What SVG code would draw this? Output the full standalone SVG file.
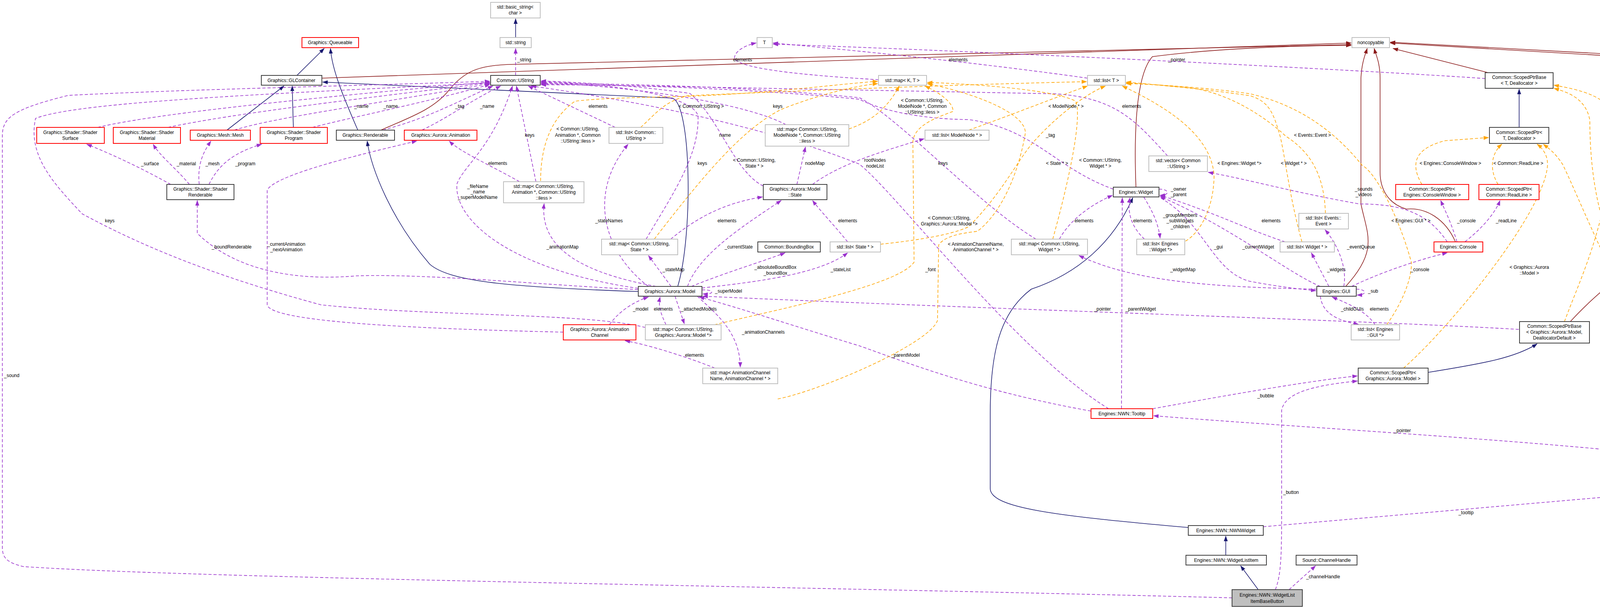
<svg xmlns="http://www.w3.org/2000/svg" width="4377" height="1556" viewBox="0 0 4377 1556">
<style>
text{font-family:"Liberation Sans",Arial,sans-serif;font-size:12px;fill:#000;text-anchor:middle}
.n rect{fill:#fff;stroke-width:2}
.g rect{stroke:#bfbfbf}.r rect{stroke:#ff0000}.b rect{stroke:#404040}
path{fill:none;stroke-width:1.6}
.i{stroke:#191970;marker-end:url(#ai)}
.k{stroke:#8b1a1a;marker-end:url(#ak)}
.u{stroke:#9a32cd;stroke-dasharray:8,5;marker-end:url(#au)}
.t{stroke:#ffa500;stroke-dasharray:8,5;marker-end:url(#at)}
</style>
<defs>
<marker id="ai" markerWidth="14" markerHeight="10" refX="13" refY="5" orient="auto" markerUnits="userSpaceOnUse"><path d="M0,0L14,5L0,10z" style="fill:#191970;stroke:none"/></marker>
<marker id="ak" markerWidth="14" markerHeight="10" refX="13" refY="5" orient="auto" markerUnits="userSpaceOnUse"><path d="M0,0L14,5L0,10z" style="fill:#8b1a1a;stroke:none"/></marker>
<marker id="au" markerWidth="14" markerHeight="10" refX="13" refY="5" orient="auto" markerUnits="userSpaceOnUse"><path d="M0,0L14,5L0,10z" style="fill:#9a32cd;stroke:none"/></marker>
<marker id="at" markerWidth="14" markerHeight="10" refX="13" refY="5" orient="auto" markerUnits="userSpaceOnUse"><path d="M0,0L14,5L0,10z" style="fill:#ffa500;stroke:none"/></marker>
</defs>
<rect width="4377" height="1556" fill="#fff"/>
<g id="edges">
<path class="i" d="M760,193 L830,124"/>
<path class="i" d="M916,333 C880,250 850,180 846,124"/>
<path class="i" d="M581,333 L727,220"/>
<path class="i" d="M751,326 L748,220"/>
<path class="i" d="M1634,746 C1300,735 1150,720 1100,676 C1000,560 950,430 940,361"/>
<path class="i" d="M1735,733 C1775,600 1770,260 1720,251 L826,210"/>
<path class="i" d="M1320,96 L1320,48"/>
<path class="i" d="M3889,326 L3889,228"/>
<path class="i" d="M3656,953 C3800,930 3880,915 3935,880"/>
<path class="i" d="M4246,1241 L4246,1192"/>
<path class="i" d="M3138,1421 L3138,1372"/>
<path class="i" d="M3221,1509 L3176,1448"/>
<path class="i" d="M3042,1350 C2700,1320 2535,1300 2535,1250 L2535,1060 C2535,900 2560,800 2640,740 C2760,700 2850,620 2900,506"/>
<path class="k" d="M824,200 L3459,110"/>
<path class="k" d="M975,333 C1050,300 1110,280 1150,230 C1190,180 1230,168 1300,165 L3459,114"/>
<path class="k" d="M2908,478 C2905,400 2900,200 2950,145 C3100,125 3300,117 3459,116"/>
<path class="k" d="M3445,733 C3530,640 3500,600 3484,522 L3484,200 C3486,160 3495,140 3500,124"/>
<path class="k" d="M3726,619 C3700,560 3650,530 3600,535 C3550,520 3533,480 3533,440 L3533,200 C3533,160 3522,140 3518,124"/>
<path class="k" d="M3810,186 L3566,124"/>
<path class="k" d="M4020,823 C4150,680 4322,600 4322,522 L4322,204 C4322,160 4280,150 4224,149 L3559,110"/>
<path class="k" d="M4273,1135 C4320,1040 4371,960 4371,776 L4371,189 C4371,160 4350,150 4300,148 L3559,108"/>
<path class="u" d="M1320,193 L1320,124"/>
<path class="u" d="M250,326 C400,290 800,250 1254,210"/>
<path class="u" d="M430,326 C600,290 900,255 1254,212"/>
<path class="u" d="M600,333 C700,300 1000,260 1254,214"/>
<path class="u" d="M800,326 C900,300 1100,260 1254,216"/>
<path class="u" d="M980,333 C1100,300 1150,270 1262,220"/>
<path class="u" d="M1080,333 C1150,300 1200,260 1282,220"/>
<path class="u" d="M437,472 C380,440 300,400 222,369"/>
<path class="u" d="M485,472 C450,430 410,400 392,369"/>
<path class="u" d="M510,472 C505,420 520,390 540,361"/>
<path class="u" d="M535,472 C560,420 600,390 670,369"/>
<path class="u" d="M1634,738 C1300,690 1160,560 1170,470 C1190,420 1260,380 1312,220"/>
<path class="u" d="M1372,465 L1322,220"/>
<path class="u" d="M1575,326 L1352,220"/>
<path class="u" d="M1954,476 C1880,440 1840,300 1766,239 C1600,215 1450,210 1385,207"/>
<path class="u" d="M1654,612 C1720,500 1790,400 1787,298 C1780,250 1600,215 1385,209"/>
<path class="u" d="M2012,319 C1900,260 1600,220 1385,211"/>
<path class="u" d="M2652,612 C2500,520 2300,300 2200,250 C1900,220 1600,215 1385,213"/>
<path class="u" d="M2989,399 C2900,300 2850,250 2700,240 L1385,215"/>
<path class="u" d="M2850,484 C2700,430 2650,330 2480,306 C2350,305 2250,280 2200,254 C1900,225 1600,217 1385,217"/>
<path class="u" d="M2838,1046 C2600,900 2300,500 2200,420 C1900,300 1500,240 1360,220"/>
<path class="u" d="M2249,204 C2100,195 1900,180 1880,150 C1880,130 1910,115 1936,110"/>
<path class="u" d="M2784,200 C2500,160 2200,130 1979,110"/>
<path class="u" d="M3802,201 C3500,180 2500,130 1979,113"/>
<path class="u" d="M1717,612 C1780,560 1850,520 1952,504"/>
<path class="u" d="M1760,733 C1790,650 1900,580 2000,513"/>
<path class="u" d="M2170,619 C2130,570 2100,540 2080,513"/>
<path class="u" d="M2040,472 L2062,376"/>
<path class="u" d="M2080,472 C2150,420 2250,390 2366,355"/>
<path class="u" d="M1680,733 C1500,700 1380,640 1393,521"/>
<path class="u" d="M1660,733 C1550,650 1500,500 1608,369"/>
<path class="u" d="M1718,733 L1660,654"/>
<path class="u" d="M1770,733 C1850,700 1950,670 2010,647"/>
<path class="u" d="M1797,737 C1950,720 2100,700 2170,647"/>
<path class="u" d="M1797,742 C1830,740 1830,755 1799,752"/>
<path class="u" d="M1728,758 L1752,829"/>
<path class="u" d="M1705,831 C1690,800 1685,780 1690,760"/>
<path class="u" d="M1560,831 C1590,790 1630,770 1660,760"/>
<path class="u" d="M1785,758 C1830,800 1895,850 1895,940"/>
<path class="u" d="M1830,942 C1750,910 1650,880 1600,872"/>
<path class="u" d="M1442,850 C1000,840 690,820 684,780 L684,487 C700,450 900,400 1067,361"/>
<path class="u" d="M1652,838 C1500,800 1100,810 821,780 C600,720 400,650 210,547 C140,472 70,400 91,303 C200,260 700,240 1254,212"/>
<path class="u" d="M1633,741 C1400,730 1100,700 912,706 C750,720 600,690 505,597 L505,513"/>
<path class="u" d="M3154,1530 C2000,1500 500,1480 60,1450 C20,1440 6,1430 6,1400 L6,348 C6,300 35,279 175,244 C500,228 900,220 1254,208"/>
<path class="u" d="M3265,1509 C3280,1470 3281,1420 3281,1300 L3281,1050 C3290,1000 3380,985 3475,975"/>
<path class="u" d="M2951,1046 C3150,1010 3350,975 3475,962"/>
<path class="u" d="M3234,1348 L4157,1268"/>
<path class="u" d="M4157,1155 C3800,1120 3280,1090 2953,1064"/>
<path class="u" d="M3888,843 C3500,820 2500,790 1799,758"/>
<path class="u" d="M2793,1052 C2500,1000 2300,920 2200,885 C2050,840 1900,790 1790,760"/>
<path class="u" d="M2871,1046 L2873,506"/>
<path class="u" d="M2712,612 C2740,560 2800,520 2848,500"/>
<path class="u" d="M2930,612 C2895,580 2885,540 2893,506"/>
<path class="u" d="M2928,504 C2950,540 2965,570 2970,610"/>
<path class="u" d="M2967,484 C2995,484 2995,500 2969,500"/>
<path class="u" d="M3380,733 C3300,700 3150,580 2970,503"/>
<path class="u" d="M3290,619 C3200,590 3100,540 2970,500"/>
<path class="u" d="M2972,507 C3084,572 3105,696 3200,720 C3280,735 3330,740 3369,744"/>
<path class="u" d="M3371,740 C3100,735 2900,720 2762,654"/>
<path class="u" d="M3705,619 C3656,547 3593,522 3480,522 C3300,490 3200,460 3093,441"/>
<path class="u" d="M3402,733 L3357,647"/>
<path class="u" d="M3440,733 C3450,680 3420,620 3392,588"/>
<path class="u" d="M3460,733 C3550,690 3650,660 3705,647"/>
<path class="u" d="M3472,740 C3500,740 3500,755 3474,755"/>
<path class="u" d="M3380,758 C3385,800 3420,820 3478,830"/>
<path class="u" d="M3520,831 C3500,800 3460,780 3410,760"/>
<path class="u" d="M3730,619 C3715,570 3700,540 3688,513"/>
<path class="u" d="M3750,619 C3800,580 3830,540 3840,513"/>
<path class="u" d="M3300,1509 L3368,1448"/>
<path class="u" d="M1330,465 C1250,420 1180,390 1150,361"/>
<path class="t" d="M1384,463 C1384,393 1400,310 1472,259 C1550,249 1700,249 1800,245 C2000,235 2150,215 2247,208"/>
<path class="t" d="M1640,326 C1680,290 1700,260 1760,245 C2100,230 2500,215 2782,209"/>
<path class="t" d="M2173,330 C2230,310 2270,280 2302,220"/>
<path class="t" d="M1675,612 C1800,450 1900,330 2000,280 C2100,240 2200,218 2247,214"/>
<path class="t" d="M1829,831 C2000,790 2300,730 2340,671 L2337,363 C2340,320 2400,300 2440,285 C2440,260 2400,235 2368,220"/>
<path class="t" d="M1991,1021 C2100,1000 2380,880 2400,820 L2403,627 C2420,600 2480,595 2502,592 C2570,540 2610,430 2625,340 C2625,290 2500,240 2374,214"/>
<path class="t" d="M2254,625 C2350,615 2440,600 2480,580 C2560,500 2600,420 2640,370 C2700,300 2780,240 2830,220"/>
<path class="t" d="M2695,612 C2740,450 2770,300 2754,259 C2700,230 2500,215 2374,211"/>
<path class="t" d="M2480,333 C2600,290 2700,250 2784,220"/>
<path class="t" d="M3035,617 C3080,590 3108,520 3108,448 C3100,350 3000,280 2873,220"/>
<path class="t" d="M3333,619 C3300,500 3290,400 3277,348 C3260,290 3250,260 3200,245 C3100,230 2950,215 2883,212"/>
<path class="t" d="M3393,546 C3390,430 3340,380 3291,348 C3240,300 3150,240 3050,225 L2883,210"/>
<path class="t" d="M3550,831 C3600,760 3615,700 3613,671 C3580,550 3520,440 3487,423 C3420,340 3330,270 3200,240 C3100,225 2950,215 2883,214"/>
<path class="t" d="M3640,472 C3610,420 3620,380 3700,360 L3811,352"/>
<path class="t" d="M3835,472 C3810,430 3820,390 3845,369"/>
<path class="t" d="M3593,942 C3700,850 3943,560 3961,430 C3965,400 3950,380 3935,369"/>
<path class="t" d="M4005,823 C4050,700 4129,550 4129,298 C4120,250 4050,230 3978,218"/>
<path class="t" d="M4294,1240 C4360,1180 4350,1074 4280,975 C4150,780 4040,500 4000,420 C3980,390 3965,380 3951,369"/>
<path class="t" d="M4262,1134 C4300,1000 4300,850 4224,780 C4140,696 4070,550 4070,308 C4060,250 4010,235 3978,226"/>
</g>
<g id="labels">
<text x="384" y="423">_surface</text><text x="477" y="423">_material</text><text x="544" y="423">_mesh</text><text x="628" y="423">_program</text>
<text x="281" y="569">keys</text><text x="593" y="636">_boundRenderable</text>
<text x="733" y="629">_currentAnimation</text><text x="733" y="643">_nextAnimation</text>
<text x="925" y="276">_name</text><text x="1000" y="276">_name</text><text x="1177" y="276">_tag</text><text x="1247" y="276">_name</text>
<text x="1342" y="157">_string</text><text x="1531" y="276">elements</text><text x="1356" y="350">keys</text>
<text x="1479" y="334">&lt; Common::UString,</text><text x="1479" y="350">Animation *, Common</text><text x="1479" y="365">::UString::iless &gt;</text>
<text x="1274" y="422">elements</text>
<text x="1223" y="481">_fileName</text><text x="1223" y="495">_name</text><text x="1223" y="509">_superModelName</text>
<text x="1559" y="569">_stateNames</text><text x="1440" y="636">_animationMap</text><text x="1724" y="694">_stateMap</text>
<text x="1795" y="276">&lt; Common::UString &gt;</text><text x="1991" y="276">keys</text><text x="1856" y="350">name</text><text x="1798" y="422">keys</text>
<text x="1931" y="414">&lt; Common::UString,</text><text x="1931" y="429">State * &gt;</text><text x="2086" y="422">nodeMap</text>
<text x="1861" y="569">elements</text><text x="2170" y="569">elements</text><text x="1891" y="636">_currentState</text>
<text x="1985" y="688">_absoluteBoundBox</text><text x="1985" y="703">_boundBox</text><text x="2152" y="694">_stateList</text>
<text x="1865" y="749">_superModel</text><text x="1901" y="157">elements</text>
<text x="2453" y="157">elements</text><text x="3012" y="157">_pointer</text>
<text x="2361" y="261">&lt; Common::UString,</text><text x="2361" y="276">ModelNode *, Common</text><text x="2361" y="291">::UString::iless &gt;</text>
<text x="2729" y="276">&lt; ModelNode * &gt;</text><text x="2897" y="276">elements</text><text x="2689" y="350">_tag</text>
<text x="2240" y="414">rootNodes</text><text x="2240" y="429">nodeList</text><text x="2414" y="422">keys</text><text x="2706" y="422">&lt; State * &gt;</text>
<text x="2817" y="414">&lt; Common::UString,</text><text x="2817" y="429">Widget * &gt;</text>
<text x="3173" y="422">&lt; Engines::Widget *&gt;</text><text x="3312" y="422">&lt; Widget * &gt;</text><text x="3360" y="350">&lt; Events::Event &gt;</text>
<text x="3017" y="488">_owner</text><text x="3017" y="502">_parent</text>
<text x="2775" y="569">elements</text><text x="2925" y="569">elements</text>
<text x="3021" y="555">_groupMembers</text><text x="3021" y="569">_subWidgets</text><text x="3021" y="584">_children</text>
<text x="3254" y="569">elements</text><text x="3119" y="636">_gui</text><text x="3221" y="636">_currentWidget</text>
<text x="2430" y="562">&lt; Common::UString,</text><text x="2430" y="577">Graphics::Aurora::Model *&gt;</text>
<text x="2498" y="629">&lt; AnimationChannelName,</text><text x="2498" y="643">AnimationChannel * &gt;</text>
<text x="2382" y="694">_font</text><text x="3028" y="694">_widgetMap</text>
<text x="3713" y="422">&lt; Engines::ConsoleWindow &gt;</text><text x="3887" y="422">&lt; Common::ReadLine &gt;</text>
<text x="3491" y="488">_sounds</text><text x="3491" y="502">_videos</text>
<text x="3612" y="569">&lt; Engines::GUI * &gt;</text><text x="3754" y="569">_console</text><text x="3856" y="569">_readLine</text>
<text x="3484" y="636">_eventQueue</text><text x="3421" y="694">_widgets</text><text x="3635" y="694">_console</text><text x="3515" y="749">_sub</text>
<text x="4216" y="562">&lt; Graphics::Aurora</text><text x="4216" y="577">::Model, DeallocatorDefault &gt;</text>
<text x="3915" y="688">&lt; Graphics::Aurora</text><text x="3915" y="703">::Model &gt;</text>
<text x="4277" y="741">&lt; Engines::NWN::Tooltip,</text><text x="4277" y="756">DeallocatorDefault &gt;</text>
<text x="30" y="965">_sound</text>
<text x="1640" y="795">_model</text><text x="1698" y="795">elements</text><text x="1789" y="795">_attachedModels</text>
<text x="1954" y="854">_animationChannels</text><text x="1778" y="913">elements</text>
<text x="2822" y="795">_pointer</text><text x="2920" y="795">_parentWidget</text><text x="2318" y="913">_parentModel</text>
<text x="3240" y="1017">_bubble</text><text x="3305" y="1264">_button</text>
<text x="3462" y="795">_childGUIs</text><text x="3531" y="795">elements</text>
<text x="4272" y="854">&lt; Engines::NWN::Tooltip &gt;</text><text x="3590" y="1106">_pointer</text>
<text x="3753" y="1316">_tooltip</text><text x="3387" y="1480">_channelHandle</text>
</g>
<g id="queueable" class="n r"><rect x="773" y="96" width="145" height="26"/><text x="845" y="113">Graphics::Queueable</text></g>
<g id="glcontainer" class="n b"><rect x="669" y="193" width="155" height="25"/><text x="746" y="210">Graphics::GLContainer</text></g>
<g id="surface" class="n r"><rect x="94" y="326" width="173" height="41"/><text x="180" y="343">Graphics::Shader::Shader</text><text x="180" y="358">Surface</text></g>
<g id="material" class="n r"><rect x="290" y="326" width="172" height="41"/><text x="376" y="343">Graphics::Shader::Shader</text><text x="376" y="358">Material</text></g>
<g id="mesh" class="n r"><rect x="487" y="333" width="154" height="26"/><text x="564" y="350">Graphics::Mesh::Mesh</text></g>
<g id="program" class="n r"><rect x="666" y="326" width="172" height="41"/><text x="752" y="343">Graphics::Shader::Shader</text><text x="752" y="358">Program</text></g>
<g id="renderable" class="n b"><rect x="861" y="333" width="149" height="26"/><text x="935" y="350">Graphics::Renderable</text></g>
<g id="animation" class="n r"><rect x="1035" y="333" width="186" height="26"/><text x="1128" y="350">Graphics::Aurora::Animation</text></g>
<g id="shaderrenderable" class="n b"><rect x="427" y="472" width="172" height="39"/><text x="513" y="488">Graphics::Shader::Shader</text><text x="513" y="503">Renderable</text></g>
<g id="basicstring" class="n g"><rect x="1256" y="6" width="127" height="40"/><text x="1319" y="22">std::basic_string&lt;</text><text x="1319" y="37">char &gt;</text></g>
<g id="stdstring" class="n g"><rect x="1280" y="96" width="80" height="26"/><text x="1320" y="113">std::string</text></g>
<g id="ustring" class="n b"><rect x="1256" y="193" width="127" height="25"/><text x="1319" y="210">Common::UString</text></g>
<g id="T" class="n g"><rect x="1938" y="96" width="39" height="26"/><text x="1957" y="113">T</text></g>
<g id="listustring" class="n g"><rect x="1559" y="326" width="138" height="41"/><text x="1628" y="343">std::list&lt; Common::</text><text x="1628" y="358">UString &gt;</text></g>
<g id="mapanim" class="n g"><rect x="1289" y="465" width="206" height="54"/><text x="1392" y="481">std::map&lt; Common::UString,</text><text x="1392" y="496">Animation *, Common::UString</text><text x="1392" y="511">::iless &gt;</text></g>
<g id="mapmodelnode" class="n g"><rect x="1959" y="319" width="214" height="55"/><text x="2066" y="335">std::map&lt; Common::UString,</text><text x="2066" y="350">ModelNode *, Common::UString</text><text x="2066" y="365">::iless &gt;</text></g>
<g id="state" class="n b"><rect x="1954" y="472" width="163" height="39"/><text x="2035" y="488">Graphics::Aurora::Model</text><text x="2035" y="503">::State</text></g>
<g id="mapstate" class="n g"><rect x="1540" y="612" width="195" height="40"/><text x="1637" y="628">std::map&lt; Common::UString,</text><text x="1637" y="643">State * &gt;</text></g>
<g id="bbox" class="n b"><rect x="1940" y="619" width="160" height="26"/><text x="2020" y="636">Common::BoundingBox</text></g>
<g id="liststate" class="n g"><rect x="2125" y="619" width="129" height="26"/><text x="2189" y="636">std::list&lt; State * &gt;</text></g>
<g id="model" class="n b"><rect x="1634" y="733" width="163" height="25"/><text x="1715" y="750">Graphics::Aurora::Model</text></g>
<g id="mapkt" class="n g"><rect x="2249" y="193" width="123" height="25"/><text x="2310" y="210">std::map&lt; K, T &gt;</text></g>
<g id="listt" class="n g"><rect x="2784" y="193" width="97" height="25"/><text x="2832" y="210">std::list&lt; T &gt;</text></g>
<g id="listmodelnode" class="n g"><rect x="2368" y="333" width="164" height="26"/><text x="2450" y="350">std::list&lt; ModelNode * &gt;</text></g>
<g id="vectorustring" class="n g"><rect x="2941" y="399" width="150" height="40"/><text x="3016" y="415">std::vector&lt; Common</text><text x="3016" y="430">::UString &gt;</text></g>
<g id="widget" class="n b"><rect x="2850" y="479" width="117" height="25"/><text x="2908" y="496">Engines::Widget</text></g>
<g id="mapwidget" class="n g"><rect x="2589" y="612" width="195" height="40"/><text x="2686" y="628">std::map&lt; Common::UString,</text><text x="2686" y="643">Widget * &gt;</text></g>
<g id="listenginewidget" class="n g"><rect x="2910" y="612" width="123" height="40"/><text x="2971" y="628">std::list&lt; Engines</text><text x="2971" y="643">::Widget *&gt;</text></g>
<g id="listwidget" class="n g"><rect x="3277" y="619" width="139" height="26"/><text x="3346" y="636">std::list&lt; Widget * &gt;</text></g>
<g id="listevent" class="n g"><rect x="3325" y="546" width="127" height="40"/><text x="3388" y="562">std::list&lt; Events::</text><text x="3388" y="577">Event &gt;</text></g>
<g id="noncopyable" class="n g"><rect x="3461" y="96" width="96" height="26"/><text x="3509" y="113">noncopyable</text></g>
<g id="spbaseT" class="n b"><rect x="3802" y="186" width="174" height="40"/><text x="3889" y="202">Common::ScopedPtrBase</text><text x="3889" y="217">&lt; T, Deallocator &gt;</text></g>
<g id="spT" class="n b"><rect x="3813" y="326" width="152" height="41"/><text x="3889" y="343">Common::ScopedPtr&lt;</text><text x="3889" y="358">T, Deallocator &gt;</text></g>
<g id="spconsole" class="n r"><rect x="3573" y="472" width="187" height="39"/><text x="3666" y="488">Common::ScopedPtr&lt;</text><text x="3666" y="503">Engines::ConsoleWindow &gt;</text></g>
<g id="spreadline" class="n r"><rect x="3786" y="472" width="154" height="39"/><text x="3863" y="488">Common::ScopedPtr&lt;</text><text x="3863" y="503">Common::ReadLine &gt;</text></g>
<g id="console" class="n r"><rect x="3671" y="619" width="125" height="26"/><text x="3733" y="636">Engines::Console</text></g>
<g id="gui" class="n b"><rect x="3371" y="733" width="101" height="25"/><text x="3421" y="750">Engines::GUI</text></g>
<g id="animchannel" class="n r"><rect x="1442" y="831" width="186" height="39"/><text x="1535" y="847">Graphics::Aurora::Animation</text><text x="1535" y="862">Channel</text></g>
<g id="mapmodel" class="n g"><rect x="1652" y="831" width="194" height="39"/><text x="1749" y="847">std::map&lt; Common::UString,</text><text x="1749" y="862">Graphics::Aurora::Model *&gt;</text></g>
<g id="mapanimch" class="n g"><rect x="1799" y="942" width="192" height="40"/><text x="1895" y="958">std::map&lt; AnimationChannel</text><text x="1895" y="973">Name, AnimationChannel * &gt;</text></g>
<g id="tooltip" class="n r"><rect x="2793" y="1046" width="158" height="25"/><text x="2872" y="1063">Engines::NWN::Tooltip</text></g>
<g id="nwnwidget" class="n b"><rect x="3042" y="1345" width="192" height="25"/><text x="3138" y="1362">Engines::NWN::NWNWidget</text></g>
<g id="widgetlistitem" class="n b"><rect x="3036" y="1421" width="206" height="25"/><text x="3139" y="1438">Engines::NWN::WidgetListItem</text></g>
<g id="basebutton" class="n b"><rect x="3154" y="1509" width="180" height="43" style="fill:#bfbfbf"/><text x="3244" y="1527">Engines::NWN::WidgetList</text><text x="3244" y="1543">ItemBaseButton</text></g>
<g id="listgui" class="n g"><rect x="3459" y="831" width="124" height="39"/><text x="3521" y="847">std::list&lt; Engines</text><text x="3521" y="862">::GUI *&gt;</text></g>
<g id="spbasemodel" class="n b"><rect x="3890" y="823" width="179" height="55"/><text x="3979" y="839">Common::ScopedPtrBase</text><text x="3979" y="854">&lt; Graphics::Aurora::Model,</text><text x="3979" y="869">DeallocatorDefault &gt;</text></g>
<g id="spmodel" class="n b"><rect x="3477" y="942" width="179" height="40"/><text x="3566" y="958">Common::ScopedPtr&lt;</text><text x="3566" y="973">Graphics::Aurora::Model &gt;</text></g>
<g id="spbasetooltip" class="n b"><rect x="4159" y="1135" width="175" height="55"/><text x="4246" y="1151">Common::ScopedPtrBase</text><text x="4246" y="1166">&lt; Engines::NWN::Tooltip,</text><text x="4246" y="1181">DeallocatorDefault &gt;</text></g>
<g id="sptooltip" class="n b"><rect x="4159" y="1241" width="174" height="40"/><text x="4246" y="1257">Common::ScopedPtr&lt;</text><text x="4246" y="1272">Engines::NWN::Tooltip &gt;</text></g>
<g id="channelhandle" class="n b"><rect x="3318" y="1421" width="156" height="25"/><text x="3396" y="1438">Sound::ChannelHandle</text></g>
</svg>
